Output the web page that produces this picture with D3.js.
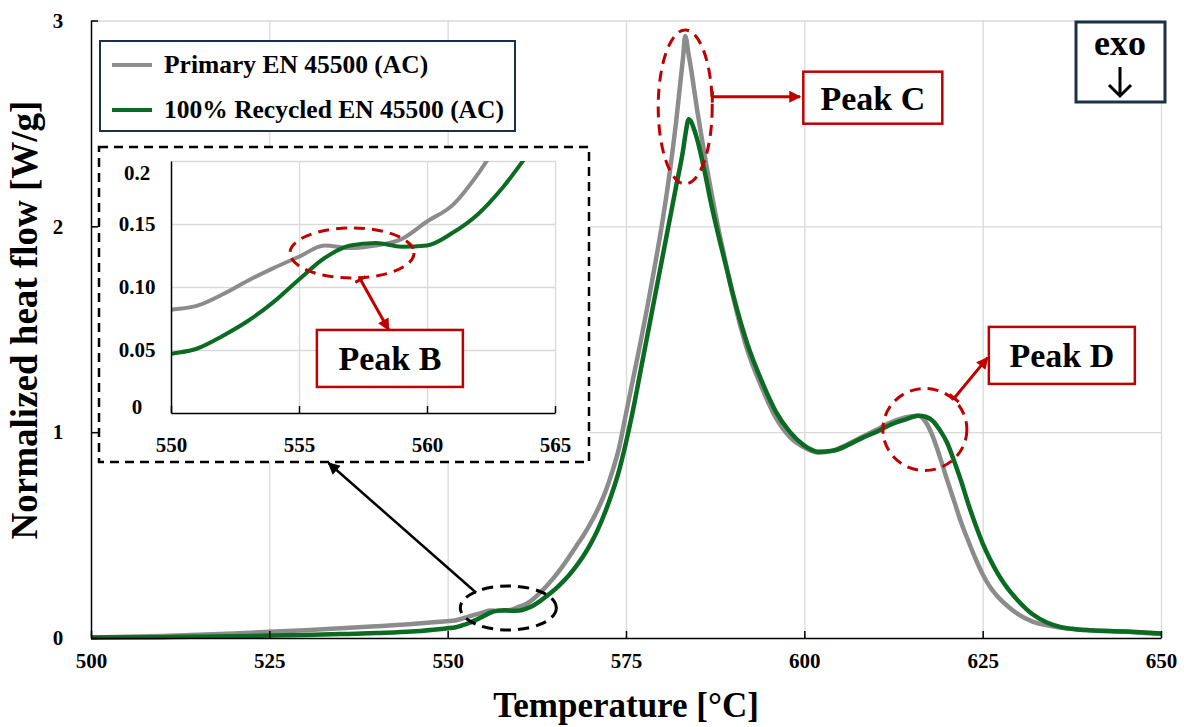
<!DOCTYPE html>
<html>
<head>
<meta charset="utf-8">
<script src="https://cdn.jsdelivr.net/npm/d3@7"></script>
<style>
  body { margin: 0; background: #fff; }
  text { font-family: "Liberation Serif", "Times New Roman", serif; font-weight: bold; fill: #000; }
</style>
</head>
<body>
<div id="chart"></div>
<script>
// Set Dimensions
const width = 1184;
const height = 727;
const plot = {left: 91, right: 1161, top: 20.5, bottom: 638};
const inset = {left: 171, right: 555, top: 161, bottom: 413};

// Data
const temperature = [
  500, 510, 520, 525, 530, 535, 540, 545, 548, 550,
  551, 552, 553, 554, 555, 556, 557, 558, 559, 560,
  561, 562, 563, 564, 565, 566, 567, 568, 569, 570,
  571, 572, 573, 574, 575, 576, 577, 578, 579, 580,
  581, 582, 583, 583.3, 583.8, 584, 585, 586, 587, 588,
  589, 590, 592, 594, 596, 598, 600, 602, 604, 606,
  608, 610, 612, 614, 615, 616, 617, 618, 619, 620,
  621, 622, 623, 624, 625, 626, 627, 628, 630, 632,
  634, 636, 638, 640, 645, 650
];

const primary = [
  0.003, 0.010, 0.022, 0.030, 0.038, 0.047, 0.057, 0.068, 0.076, 0.082,
  0.085, 0.094, 0.105, 0.115, 0.124, 0.133, 0.131, 0.133, 0.138, 0.152,
  0.165, 0.190, 0.222, 0.258, 0.298, 0.343, 0.393, 0.445, 0.497, 0.555,
  0.622, 0.700, 0.800, 0.920, 1.090, 1.260, 1.430, 1.610, 1.800, 2.000,
  2.230, 2.500, 2.820, 2.925, 2.830, 2.790, 2.560, 2.350, 2.160, 1.980,
  1.820, 1.660, 1.400, 1.220, 1.070, 0.975, 0.925, 0.900, 0.910, 0.940,
  0.975, 1.010, 1.045, 1.070, 1.078, 1.080, 1.050, 0.980, 0.880, 0.770,
  0.665, 0.560, 0.470, 0.385, 0.310, 0.250, 0.205, 0.170, 0.115, 0.080,
  0.062, 0.050, 0.043, 0.038, 0.030, 0.020
];

const recycled = [
  0.002, 0.004, 0.008, 0.012, 0.015, 0.019, 0.024, 0.031, 0.040, 0.047,
  0.051, 0.061, 0.073, 0.088, 0.106, 0.123, 0.133, 0.135, 0.132, 0.133,
  0.143, 0.158, 0.180, 0.207, 0.235, 0.268, 0.305, 0.348, 0.397, 0.455,
  0.523, 0.605, 0.700, 0.810, 0.950, 1.110, 1.290, 1.470, 1.650, 1.830,
  2.010, 2.190, 2.370, 2.440, 2.520, 2.515, 2.420, 2.270, 2.100, 1.950,
  1.810, 1.670, 1.430, 1.250, 1.100, 1.000, 0.935, 0.905, 0.910, 0.935,
  0.970, 1.000, 1.035, 1.060, 1.072, 1.080, 1.075, 1.055, 1.010, 0.950,
  0.860, 0.760, 0.650, 0.550, 0.460, 0.385, 0.320, 0.265, 0.180, 0.115,
  0.075, 0.053, 0.043, 0.038, 0.032, 0.022
];

const seriesNames = ["Primary EN 45500 (AC)", "100% Recycled EN 45500 (AC)"];
const xTicks = [500, 525, 550, 575, 600, 625, 650];
const yTicks = [0, 1, 2, 3];
const insetXTicks = [550, 555, 560, 565];
const insetYTicks = [0, 0.05, 0.1, 0.15, 0.2];
const insetYLabels = ["0", "0.05", "0.10", "0.15", "0.2"];

const colors = ["#8c8c8c", "#0b6b22"];
const red = "#c00000";
const gridColor = "#d9d9d9";

// Append SVG Object to the Page
const svg = d3.select("#chart")
  .append("svg")
  .attr("width", width)
  .attr("height", height);

// Markers for the annotation arrows
const defs = svg.append("defs");
function arrowHead(id, color) {
  defs.append("marker")
    .attr("id", id)
    .attr("viewBox", "0 0 10 10")
    .attr("refX", 9)
    .attr("refY", 5)
    .attr("markerUnits", "userSpaceOnUse")
    .attr("markerWidth", 13)
    .attr("markerHeight", 12)
    .attr("orient", "auto")
    .append("path")
    .attr("d", "M0,0 L10,5 L0,10 z")
    .attr("fill", color);
}
arrowHead("headRed", red);
arrowHead("headBlack", "#000");
defs.append("marker")
  .attr("id", "barRed")
  .attr("viewBox", "0 0 10 10")
  .attr("refX", 5)
  .attr("refY", 5)
  .attr("markerUnits", "userSpaceOnUse")
  .attr("markerWidth", 12)
  .attr("markerHeight", 12)
  .attr("orient", "auto")
  .append("path")
  .attr("d", "M5,0 L5,10")
  .attr("stroke", red)
  .attr("stroke-width", 2.5);

// Scales
const x = d3.scaleLinear().domain([500, 650]).range([plot.left, plot.right]);
const y = d3.scaleLinear().domain([0, 3]).range([plot.bottom, plot.top]);

// Grid
svg.append("g")
  .attr("transform", `translate(0,${plot.bottom})`)
  .call(d3.axisBottom(x).tickValues(xTicks.slice(1)).tickSize(-(plot.bottom - plot.top)).tickFormat(""))
  .call(g => g.select(".domain").remove())
  .call(g => g.selectAll("line").attr("stroke", gridColor).attr("stroke-width", 1.3));

svg.append("g")
  .attr("transform", `translate(${plot.left},0)`)
  .call(d3.axisLeft(y).tickValues(yTicks.slice(1)).tickSize(-(plot.right - plot.left)).tickFormat(""))
  .call(g => g.select(".domain").remove())
  .call(g => g.selectAll("line").attr("stroke", gridColor).attr("stroke-width", 1.3));

// Curves
const seriesValues = [primary, recycled];
const toPoints = vals => temperature.map((t, i) => [t, vals[i]]);

const line = d3.line()
  .x(d => x(d[0]))
  .y(d => y(d[1]))
  .curve(d3.curveMonotoneX);

seriesValues.forEach((vals, i) => {
  svg.append("path")
    .datum(toPoints(vals))
    .attr("d", line)
    .attr("fill", "none")
    .attr("stroke", colors[i])
    .attr("stroke-width", 4.5)
    .attr("stroke-linejoin", "round");
});

// Axes
const xAxis = svg.append("g")
  .attr("transform", `translate(0,${plot.bottom})`)
  .call(d3.axisBottom(x).tickValues(xTicks).tickSizeInner(-7).tickSizeOuter(0).tickPadding(15));
xAxis.select(".domain").attr("stroke", "#000").attr("stroke-width", 1.5);
xAxis.selectAll(".tick line").attr("stroke", "#000").attr("stroke-width", 1.5);
xAxis.selectAll("text").style("font-size", "21px");

const yAxis = svg.append("g")
  .attr("transform", `translate(${plot.left},0)`)
  .call(d3.axisLeft(y).tickValues(yTicks).tickFormat(d3.format("d")).tickSizeInner(-7).tickSizeOuter(0));
yAxis.select(".domain").attr("stroke", "#000").attr("stroke-width", 1.5);
yAxis.selectAll(".tick line").attr("stroke", "#000").attr("stroke-width", 1.5);
yAxis.selectAll("text")
  .attr("x", -33)
  .attr("text-anchor", "middle")
  .style("font-size", "21px");

// Axis titles
svg.append("text")
  .attr("x", (plot.left + plot.right) / 2)
  .attr("y", 717)
  .attr("text-anchor", "middle")
  .style("font-size", "35px")
  .text("Temperature [°C]");

svg.append("text")
  .attr("transform", "translate(37,320) rotate(-90)")
  .attr("text-anchor", "middle")
  .style("font-size", "37px")
  .text("Normalized heat flow [W/g]");

// Legend
const legend = svg.append("g");
legend.append("rect")
  .attr("x", 100).attr("y", 41)
  .attr("width", 415).attr("height", 90)
  .attr("fill", "#fff")
  .attr("stroke", "#1c3048")
  .attr("stroke-width", 2);
seriesNames.forEach((name, i) => {
  const ly = 65 + i * 45;
  legend.append("line")
    .attr("x1", 112).attr("x2", 152)
    .attr("y1", ly).attr("y2", ly)
    .attr("stroke", colors[i])
    .attr("stroke-width", 4);
  legend.append("text")
    .attr("x", 164)
    .attr("y", ly + 8)
    .style("font-size", "25.5px")
    .text(name);
});

// exo box
svg.append("rect")
  .attr("x", 1076).attr("y", 22)
  .attr("width", 89).attr("height", 80)
  .attr("fill", "#fff")
  .attr("stroke", "#1c3048")
  .attr("stroke-width", 3);
svg.append("text")
  .attr("x", 1120).attr("y", 55)
  .attr("text-anchor", "middle")
  .style("font-size", "36px")
  .text("exo");
svg.append("path")
  .attr("d", "M1120,67 L1120,96 M1109,85 L1120,96 L1131,85")
  .attr("fill", "none")
  .attr("stroke", "#000")
  .attr("stroke-width", 3);

// Annotation helpers
function dashedEllipse(g, cx, cy, rx, ry, color) {
  g.append("ellipse")
    .attr("cx", cx).attr("cy", cy)
    .attr("rx", rx).attr("ry", ry)
    .attr("fill", "none")
    .attr("stroke", color)
    .attr("stroke-width", 3)
    .attr("stroke-dasharray", "11,7");
}
function peakLabel(g, cx, cy, w, h, label) {
  g.append("rect")
    .attr("x", cx - w / 2).attr("y", cy - h / 2)
    .attr("width", w).attr("height", h)
    .attr("fill", "#fff")
    .attr("stroke", red)
    .attr("stroke-width", 2.5);
  g.append("text")
    .attr("x", cx).attr("y", cy + 12)
    .attr("text-anchor", "middle")
    .style("font-size", "34px")
    .text(label);
}
function redArrow(g, x1, y1, x2, y2) {
  g.append("line")
    .attr("x1", x1).attr("y1", y1)
    .attr("x2", x2).attr("y2", y2)
    .attr("stroke", red)
    .attr("stroke-width", 3)
    .attr("marker-start", "url(#barRed)")
    .attr("marker-end", "url(#headRed)");
}

// Peak C and Peak D
const notes = svg.append("g");
dashedEllipse(notes, x(583.3), y(2.58), 27, 77, red);
peakLabel(notes, x(609.6), y(2.625), 139, 52, "Peak C");
redArrow(notes, x(587.1), y(2.63), x(599.4), y(2.63));

dashedEllipse(notes, x(616.9), y(1.013), 42, 41, red);
peakLabel(notes, x(636.1), y(1.373), 146, 57, "Peak D");
redArrow(notes, x(621.0), y(1.165), x(625.7), y(1.362));

// Region of peak B on the main curve
dashedEllipse(notes, x(558.5), y(0.146), 48, 22, "#000");
notes.append("line")
  .attr("x1", x(554.0)).attr("y1", y(0.22))
  .attr("x2", x(533.3)).attr("y2", y(0.85))
  .attr("stroke", "#000")
  .attr("stroke-width", 2.5)
  .attr("marker-end", "url(#headBlack)");

// Inset
const ins = svg.append("g");
ins.append("rect")
  .attr("x", 99).attr("y", 147)
  .attr("width", 490).attr("height", 315)
  .attr("fill", "#fff")
  .attr("stroke", "#000")
  .attr("stroke-width", 2.5)
  .attr("stroke-dasharray", "9,6");

const ix = d3.scaleLinear().domain([550, 565]).range([inset.left, inset.right]);
const iy = d3.scaleLinear().domain([0, 0.2]).range([inset.bottom, inset.top]);

ins.append("g")
  .attr("transform", `translate(0,${inset.bottom})`)
  .call(d3.axisBottom(ix).tickValues(insetXTicks.slice(1)).tickSize(-(inset.bottom - inset.top)).tickFormat(""))
  .call(g => g.select(".domain").remove())
  .call(g => g.selectAll("line").attr("stroke", gridColor).attr("stroke-width", 1.3));
ins.append("g")
  .attr("transform", `translate(${inset.left},0)`)
  .call(d3.axisLeft(iy).tickValues(insetYTicks.slice(1)).tickSize(-(inset.right - inset.left)).tickFormat(""))
  .call(g => g.select(".domain").remove())
  .call(g => g.selectAll("line").attr("stroke", gridColor).attr("stroke-width", 1.3));

defs.append("clipPath")
  .attr("id", "insetClip")
  .append("rect")
  .attr("x", inset.left).attr("y", inset.top)
  .attr("width", inset.right - inset.left)
  .attr("height", inset.bottom - inset.top);

const insetLine = d3.line()
  .x(d => ix(d[0]))
  .y(d => iy(d[1]))
  .curve(d3.curveMonotoneX);

seriesValues.forEach((vals, i) => {
  ins.append("path")
    .datum(toPoints(vals).filter(d => d[0] >= 548 && d[0] <= 567))
    .attr("d", insetLine)
    .attr("clip-path", "url(#insetClip)")
    .attr("fill", "none")
    .attr("stroke", colors[i])
    .attr("stroke-width", 4)
    .attr("stroke-linejoin", "round");
});

const ixAxis = ins.append("g")
  .attr("transform", `translate(0,${inset.bottom})`)
  .call(d3.axisBottom(ix).tickValues(insetXTicks).tickSizeInner(-7).tickSizeOuter(0).tickPadding(24));
ixAxis.select(".domain").attr("stroke", "#000").attr("stroke-width", 1.5);
ixAxis.selectAll(".tick line").attr("stroke", "#000").attr("stroke-width", 1.5);
ixAxis.selectAll("text").style("font-size", "21px");

const iyAxis = ins.append("g")
  .attr("transform", `translate(${inset.left},0)`)
  .call(d3.axisLeft(iy).tickValues(insetYTicks).tickFormat((d, i) => insetYLabels[i]).tickSize(0));
iyAxis.select(".domain").attr("stroke", "#000").attr("stroke-width", 1.5);
iyAxis.selectAll("text")
  .attr("x", -34)
  .attr("text-anchor", "middle")
  .attr("dy", (d, i) => i === 0 ? "0em" : (i === insetYTicks.length - 1 ? "0.9em" : "0.32em"))
  .style("font-size", "21px");

// Peak B
dashedEllipse(ins, ix(557.07), iy(0.127), 62, 25, red);
peakLabel(ins, ix(558.55), iy(0.0433), 146, 57, "Peak B");
redArrow(ins, ix(557.4), iy(0.106), ix(558.5), iy(0.066));
</script>
</body>
</html>
